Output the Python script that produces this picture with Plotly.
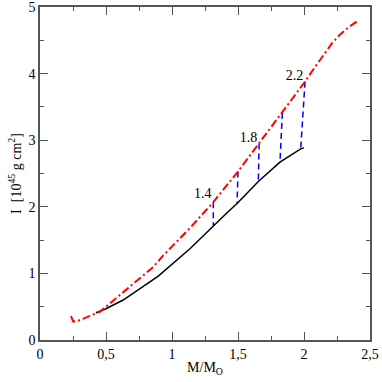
import plotly.graph_objects as go

# rotating (red) and static (black) sequences: I vs M/M_O
rot_mass = [0.235, 0.252, 0.29, 0.39, 0.455, 0.53, 0.63, 0.71, 0.86, 0.934, 1.136, 1.313,
            1.50, 1.66, 1.836, 2.008, 2.08, 2.146, 2.21, 2.27, 2.34, 2.40]
rot_I = [0.36, 0.275, 0.29, 0.375, 0.425, 0.55, 0.71, 0.85, 1.10, 1.27, 1.68, 2.07,
         2.53, 2.95, 3.41, 3.88, 4.09, 4.28, 4.45, 4.58, 4.70, 4.78]

stat_mass = [0.424, 0.5, 0.63, 0.74, 0.896, 1.136, 1.313, 1.427, 1.493, 1.654, 1.818,
             1.894, 1.95, 1.975, 2.0]
stat_I = [0.41, 0.47, 0.60, 0.75, 0.96, 1.37, 1.72, 1.93, 2.05, 2.38, 2.67,
          2.77, 2.845, 2.87, 2.885]

# connecting dashed lines (top on red, bottom on black)
link_mass_top = [1.313, 1.50, 1.66, 1.836, 2.008]
link_I_top = [2.07, 2.53, 2.95, 3.41, 3.88]
link_mass_bot = [1.313, 1.493, 1.654, 1.818, 1.975]
link_I_bot = [1.72, 2.05, 2.38, 2.67, 2.87]

label_text = ["1.4", "1.8", "2.2"]
label_mass = [1.30, 1.645, 1.995]
label_I = [2.18, 3.03, 3.96]

x_ticks = [0, 0.5, 1, 1.5, 2, 2.5]
x_ticktext = ["0", "0,5", "1", "1,5", "2", "2,5"]
y_ticks = [0, 1, 2, 3, 4, 5]

fig = go.Figure()

for i in range(len(link_mass_top)):
    fig.add_trace(go.Scatter(
        x=[link_mass_top[i], link_mass_bot[i]], y=[link_I_top[i], link_I_bot[i]],
        mode='lines', line=dict(color='#0000ff', width=1.5, dash='6px,4px'),
        showlegend=False
    ))

fig.add_trace(go.Scatter(
    x=stat_mass, y=stat_I, mode='lines',
    line=dict(color='black', width=1.5), showlegend=False
))
fig.add_trace(go.Scatter(
    x=rot_mass, y=rot_I, mode='lines',
    line=dict(color='#ff0000', width=2, dash='8px,3px,2px,3px'),
    showlegend=False
))

fig.add_trace(go.Scatter(
    x=label_mass, y=label_I, mode='text', text=label_text,
    textposition='middle left',
    textfont=dict(family='Liberation Serif', size=14, color='black'),
    showlegend=False
))

axis_style = dict(
    showline=True, linecolor='#555555', linewidth=1.5, mirror='ticks',
    ticks='inside', ticklen=8, tickwidth=1.2, tickcolor='#555555',
    showgrid=False, zeroline=False, automargin=False,
    ticklabeloverflow='allow',
    tickfont=dict(family='Liberation Serif', size=14, color='black'),
)

fig.update_layout(
    width=382, height=382,
    paper_bgcolor='white', plot_bgcolor='white',
    margin=dict(l=40, r=12, t=7, b=42),
    font=dict(family='Liberation Serif', size=14, color='black'),
    xaxis=dict(
        range=[0, 2.5], tickvals=x_ticks, ticktext=x_ticktext,
        minor=dict(ticks='inside', ticklen=4, dtick=0.25, tickcolor='#555555'),
        title=dict(text='M/M<sub>O</sub>', standoff=2,
                   font=dict(family='Liberation Serif', size=14)),
        **axis_style
    ),
    yaxis=dict(
        range=[0, 5], tickvals=y_ticks,
        minor=dict(ticks='inside', ticklen=4, dtick=0.5, tickcolor='#555555'),
        title=dict(text='I  [10<sup>45</sup> g cm<sup>2</sup>]', standoff=4,
                   font=dict(family='Liberation Serif', size=14)),
        **axis_style
    ),
)

fig.write_html("out.html", config={'displayModeBar': False},
               post_script="document.body.style.margin='0px';")
